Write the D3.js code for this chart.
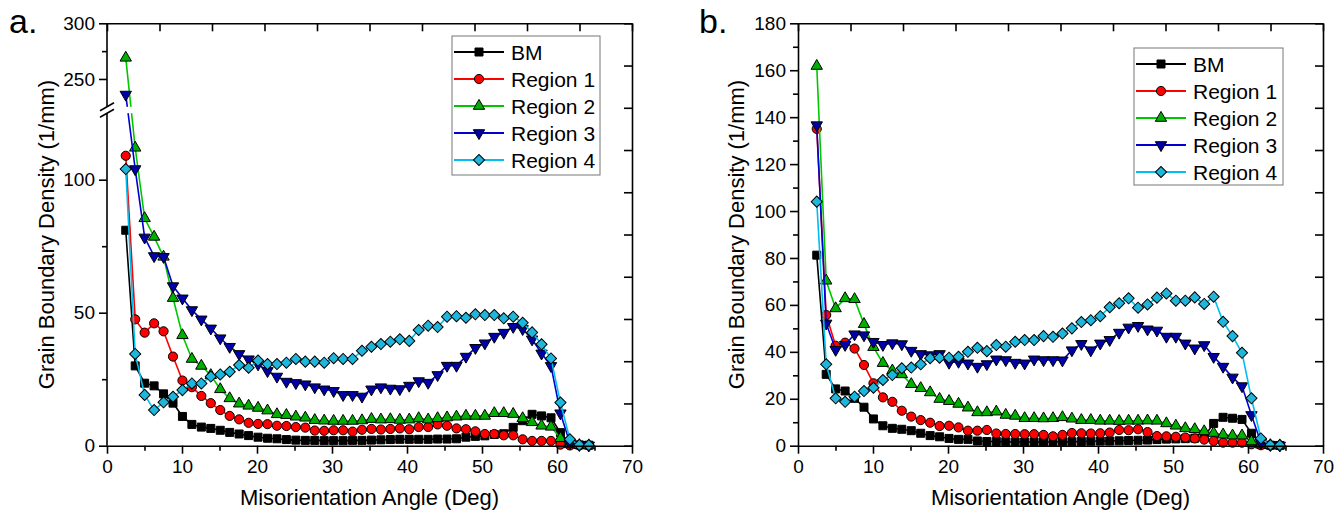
<!DOCTYPE html>
<html lang="en">
<head>
<meta charset="UTF-8" />
<title>Grain Boundary Density vs Misorientation Angle</title>
<script src="https://d3js.org/d3.v7.min.js"></script>
<style>
    body {
        margin: 0;
        background: #fff;
    }

    svg {
        display: block;
        font-family: Arial, "Liberation Sans", sans-serif;
    }

    .axis path.domain,
    .axis line {
        stroke: #000;
        stroke-width: 1.6px;
    }

    .axis text {
        font-size: 19px;
        fill: #000;
    }

    .title {
        font-size: 22px;
        fill: #000;
    }

    .legend text {
        font-size: 21px;
        fill: #000;
    }
</style>
</head>

<body>
<svg id="chart" width="1341" height="515"></svg>

<script>
    const svg = d3.select("#chart");

    // misorientation angle bins (deg)
    const angles = [2.50, 3.76, 5.02, 6.28, 7.54, 8.80, 10.06, 11.32, 12.58, 13.84,
        15.10, 16.36, 17.62, 18.88, 20.14, 21.40, 22.66, 23.92, 25.18, 26.44,
        27.70, 28.96, 30.22, 31.48, 32.74, 34.00, 35.26, 36.52, 37.78, 39.04,
        40.30, 41.56, 42.82, 44.08, 45.34, 46.60, 47.86, 49.12, 50.38, 51.64,
        52.90, 54.16, 55.42, 56.68, 57.94, 59.20, 60.46, 61.72, 62.98, 64.24];

    const seriesNames = ["BM", "Region 1", "Region 2", "Region 3", "Region 4"];
    const lineColors = ["#000000", "#ff0000", "#00c800", "#0000d0", "#00bfef"];
    const markerFills = ["#000000", "#ff0000", "#00b000", "#0000a8", "#1fb6dc"];
    const markerShapes = ["square", "circle", "triangle", "triangleDown", "diamond"];

    // panel a
    const bmA = [81, 30, 23.5, 22.5, 19.5, 16, 11, 8, 7, 6.5, 5.8, 5, 4.4, 3.8, 3.2, 2.8, 2.6, 2.3, 2.1, 2.0,
        2.0, 1.9, 1.9, 1.9, 2.0, 2.0, 2.1, 2.2, 2.3, 2.4, 2.4, 2.4, 2.4, 2.5, 2.5, 2.6, 3.2, 3.5, 3.7, 4.2,
        4.5, 6.9, 9.4, 11.8, 11.2, 10.5, 4.9, 0.8, 0.3, 0.2];
    const region1A = [109, 47.5, 42.5, 46, 43, 33.5, 24.5, 22, 18.7, 16, 13.4, 11.2, 9.9, 8.6, 8.2, 8.1, 7.5, 7.4, 7, 6.8,
        5.7, 5.6, 5.8, 5.8, 5.3, 6, 6.3, 6.1, 6.3, 6.5, 6.2, 7, 7, 8, 7.5, 6.5, 6.2, 5.4, 4.4, 4.4,
        3.9, 3.9, 2.4, 1.8, 1.8, 1.8, 0.4, 0.1, 0.1, 0.1];
    const region2A = [269, 112, 85.5, 78.5, 71, 55.5, 41.5, 32.6, 30, 26.5, 21.2, 17.8, 15.8, 15, 14.2, 13.2, 11.8, 11.5, 10.9, 10.5,
        9.6, 9.4, 9.3, 9.3, 9.3, 9.5, 10, 9.8, 9.9, 9.7, 9.8, 10.3, 9.8, 10.3, 10.6, 10.9, 11.2, 11.2, 11.2, 12.2,
        12.2, 11.9, 10.3, 8.8, 7.5, 7.1, 2.8, 0.5, 0.2, 0.1];
    const region3A = [236, 104, 78.3, 71.3, 71, 60, 55.4, 51, 47.5, 44.1, 40.4, 37.2, 34.5, 32.5, 30.6, 28.1, 26, 24.1, 23.6, 23.1,
        22, 21.2, 20.6, 19.1, 19.1, 18.5, 21.2, 22, 21.5, 21.3, 22.6, 24.3, 23.7, 26.6, 30.1, 30.1, 33.5, 36.8, 38.5, 41,
        42.5, 44.7, 43.9, 40, 34.7, 30, 12.2, 1, 0.3, 0.1];
    const region4A = [104, 34.5, 19.1, 13.4, 16.3, 18.4, 20.9, 23.4, 23.4, 26, 26.8, 27.8, 30.3, 29.3, 32, 30.7, 30.7, 31.2, 32.6, 31.6,
        31.6, 31.2, 32.9, 32.6, 32.6, 35.7, 37.2, 38.2, 39.1, 40, 39.4, 43.5, 45.1, 44.6, 48.5, 48.7, 48.1, 49.4, 49.1, 49.1,
        47.9, 48.5, 46.2, 42.6, 38.1, 32.8, 16.2, 2.4, 0.3, 0.2];

    // panel b
    const bmB = [81.2, 30.4, 24.2, 23.3, 20.2, 16.4, 11.4, 8.5, 7.4, 7, 6.4, 5.3, 4.3, 3.8, 3.1, 2.7, 2.7, 2.0, 1.8, 1.8,
        1.7, 1.6, 1.6, 1.6, 1.6, 1.6, 1.7, 1.7, 1.8, 1.9, 2, 2, 2.1, 2.2, 2.3, 2.4, 2.6, 2.8, 2.9, 3,
        3.2, 3.8, 9.5, 12.1, 11.7, 11.2, 5.3, 0.5, 0.2, 0.1];
    const region1B = [135, 55.7, 42.6, 43.9, 41.4, 34.4, 26.6, 20.6, 18.7, 14.9, 12.4, 10.9, 9.8, 8.4, 8.5, 7.8, 6.4, 6.4, 6.7, 5.2,
        5, 5, 4.9, 4.9, 4.6, 4, 4.6, 5.4, 5.3, 5.2, 5.3, 5.6, 6.7, 6.6, 7, 5.8, 4.1, 4, 3.8, 3.5,
        3.1, 2.6, 2, 1.3, 1.3, 1.3, 0.6, 0.2, 0.1, 0.1];
    const region2B = [161.8, 70.3, 58.5, 62.8, 62.4, 51.8, 42, 35.2, 32, 30.4, 26.2, 24.5, 22.7, 19.9, 19, 17.8, 16.2, 14.2, 14.2, 14.5,
        13.1, 12.7, 11.7, 11.7, 11.6, 11.7, 12.1, 11.5, 10.9, 10.9, 10.6, 10.6, 10.5, 10.6, 10.6, 10.7, 10.6, 9.5, 8.5, 7.4,
        7, 6.1, 5.4, 4.7, 4.3, 4.3, 1.8, 0.5, 0.2, 0.1];
    const region3B = [136.6, 52.1, 40.9, 43, 47.5, 47.1, 44.3, 43, 43.7, 43.3, 40.5, 39.1, 38.6, 39.1, 35.4, 35.8, 35.1, 33.7, 34.8, 36.8,
        36.5, 35.4, 35.1, 36.8, 36.5, 36.5, 36.4, 40.7, 43.4, 40.7, 43.6, 45.1, 48.2, 50.4, 51.1, 49.6, 49.1, 46.5, 46.5, 43.6,
        41.5, 42.9, 37.9, 33.7, 29.1, 25.4, 13.1, 1.3, 0.3, 0.1];
    const region4B = [104, 34.7, 20.2, 18.7, 20.9, 23.3, 24.7, 28, 30.1, 33, 33.3, 34.7, 37.3, 37.5, 37.5, 37.9, 40, 41.7, 40.3, 42.9,
        42.2, 44.3, 45, 45, 46.7, 46.4, 47.8, 50, 52.7, 53.5, 55.2, 59, 60.7, 62.8, 58.8, 60.2, 63.1, 64.9, 61.8, 61.8,
        63.2, 60.4, 63.5, 52.8, 46.7, 39.6, 20.2, 3.1, 0.3, 0.2];

    const xTicks = [0, 10, 20, 30, 40, 50, 60, 70];

    const plotTop = 23.3;
    const plotBottom = 445.7;

    function markerD(shape) {
        if (shape === "square") return d3.symbol(d3.symbolSquare, 64)();
        if (shape === "circle") return d3.symbol(d3.symbolCircle, 66)();
        if (shape === "diamond") return d3.symbol(d3.symbolSquare, 62)();
        return d3.symbol(d3.symbolTriangle, 56)();
    }

    function markerRot(shape) {
        if (shape === "diamond") return 45;
        if (shape === "triangleDown") return 180;
        return 0;
    }

    function drawPanel(p) {
        const g = svg.append("g");
        const x = d3.scaleLinear().domain([0, 70]).range([p.left, p.right]);
        const y = p.y;

        // series: line first, then its markers
        p.series.forEach((vals, s) => {
            const pts = angles.map((a, i) => [a, vals[i]]);
            g.append("path")
                .datum(pts)
                .attr("fill", "none")
                .attr("stroke", lineColors[s])
                .attr("stroke-width", 1.6)
                .attr("d", d3.line().x(d => x(d[0])).y(d => y(d[1])));

            g.append("g").selectAll("path")
                .data(pts)
                .join("path")
                .attr("d", markerD(markerShapes[s]))
                .attr("transform", d => `translate(${x(d[0])},${y(d[1])}) rotate(${markerRot(markerShapes[s])})`)
                .attr("fill", markerFills[s])
                .attr("stroke", "#000")
                .attr("stroke-width", 1);
        });

        // white band for the axis break
        if (p.brk) {
            g.append("rect")
                .attr("x", p.left - 10).attr("y", p.brk[1])
                .attr("width", p.right - p.left + 9)
                .attr("height", p.brk[0] - p.brk[1])
                .attr("fill", "#fff");
        }

        // bottom axis
        g.append("g").attr("class", "axis")
            .attr("transform", `translate(0,${plotBottom})`)
            .call(d3.axisBottom(x).tickValues(xTicks).tickSize(8).tickSizeOuter(0).tickPadding(6));
        g.append("g").attr("class", "axis")
            .attr("transform", `translate(0,${plotBottom})`)
            .call(d3.axisBottom(x).tickValues(d3.range(5, 70, 10)).tickSize(5).tickFormat(""))
            .select(".domain").remove();

        // top frame with inward ticks
        g.append("g").attr("class", "axis")
            .attr("transform", `translate(0,${plotTop})`)
            .call(d3.axisBottom(x).tickValues(d3.range(0, 71, 7)).tickSize(8).tickSizeOuter(0).tickFormat(""));

        // right frame with inward ticks
        const yr = d3.scaleLinear().domain([0, 10]).range([plotBottom, plotTop]);
        g.append("g").attr("class", "axis")
            .attr("transform", `translate(${p.right},0)`)
            .call(d3.axisLeft(yr).tickValues(d3.range(0, 11)).tickSize(8).tickSizeOuter(0).tickFormat(""));

        // left axis
        const left = g.append("g").attr("class", "axis")
            .attr("transform", `translate(${p.left},0)`)
            .call(d3.axisLeft(y).tickValues(p.yMajor).tickSize(8).tickSizeOuter(0).tickPadding(4));
        g.append("g").attr("class", "axis")
            .attr("transform", `translate(${p.left},0)`)
            .call(d3.axisLeft(y).tickValues(p.yMinor).tickSize(5).tickFormat(""))
            .select(".domain").remove();

        if (p.brk) {
            left.select(".domain").remove();
            left.append("line").attr("x1", 0).attr("x2", 0).attr("y1", plotBottom).attr("y2", p.brk[0]);
            left.append("line").attr("x1", 0).attr("x2", 0).attr("y1", p.brk[1]).attr("y2", plotTop);
            p.brk.forEach(yb => {
                left.append("line")
                    .attr("x1", -7).attr("y1", yb + 4)
                    .attr("x2", 7).attr("y2", yb - 4);
            });
        }

        // titles
        g.append("text").attr("class", "title")
            .attr("x", (p.left + p.right) / 2).attr("y", 505)
            .attr("text-anchor", "middle")
            .text("Misorientation Angle (Deg)");
        g.append("text").attr("class", "title")
            .attr("transform", `translate(${p.yTitleX},${(plotTop + plotBottom) / 2}) rotate(-90)`)
            .attr("text-anchor", "middle")
            .attr("dy", "0.35em")
            .text("Grain Boundary Density (1/mm)");
        g.append("text")
            .attr("x", p.labelX).attr("y", 33)
            .attr("font-size", 34)
            .text(p.label);

        // legend
        const lg = g.append("g").attr("class", "legend");
        lg.append("rect")
            .attr("x", p.legend.x).attr("y", p.legend.y)
            .attr("width", p.legend.w).attr("height", p.legend.h)
            .attr("fill", "#fff").attr("stroke", "#777").attr("stroke-width", 1);
        seriesNames.forEach((name, s) => {
            const cy = p.legend.y + 16 + s * 27;
            const lx = p.legend.x + 2;
            lg.append("line")
                .attr("x1", lx).attr("x2", lx + 50)
                .attr("y1", cy).attr("y2", cy)
                .attr("stroke", lineColors[s]).attr("stroke-width", 2);
            lg.append("path")
                .attr("d", markerD(markerShapes[s]))
                .attr("transform", `translate(${lx + 25},${cy}) rotate(${markerRot(markerShapes[s])})`)
                .attr("fill", markerFills[s])
                .attr("stroke", "#000").attr("stroke-width", 1);
            lg.append("text")
                .attr("x", lx + 57).attr("y", cy).attr("dy", "0.36em")
                .text(name);
        });
    }

    // panel a: broken y axis (0-125 | 225-300)
    const yA = d3.scaleLinear()
        .domain([0, 125, 225, 300])
        .range([plotBottom, 113.2, 106.8, plotTop]);

    drawPanel({
        left: 107, right: 632, y: yA,
        yMajor: [0, 50, 100, 250, 300], yMinor: [25, 75, 275],
        brk: [113.2, 106.8],
        series: [bmA, region1A, region2A, region3A, region4A],
        yTitleX: 46, label: "a.", labelX: 9,
        legend: { x: 452, y: 36, w: 148, h: 139 }
    });

    const yB = d3.scaleLinear().domain([0, 180]).range([plotBottom, plotTop]);

    drawPanel({
        left: 798, right: 1323, y: yB,
        yMajor: d3.range(0, 181, 20), yMinor: d3.range(10, 180, 20),
        series: [bmB, region1B, region2B, region3B, region4B],
        yTitleX: 736, label: "b.", labelX: 699,
        legend: { x: 1134, y: 48, w: 149, h: 137 }
    });
</script>
</body>

</html>
